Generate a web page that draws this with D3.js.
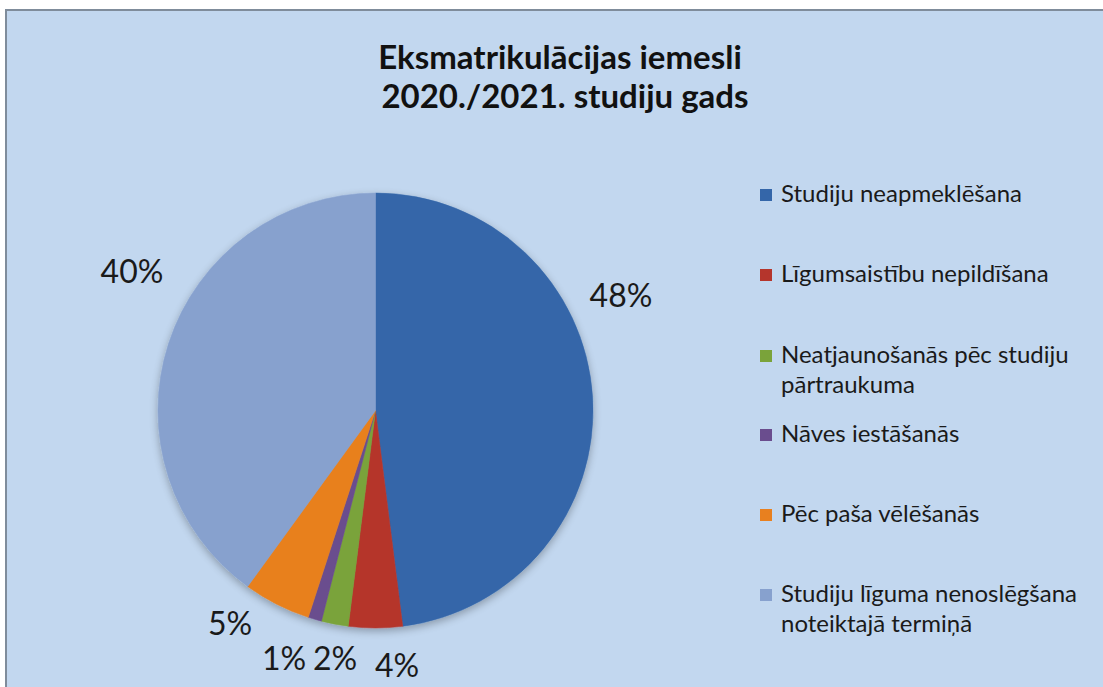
<!DOCTYPE html>
<html><head><meta charset="utf-8">
<script src="https://cdn.jsdelivr.net/npm/d3@7/dist/d3.min.js"></script>
<style>body{margin:0;background:#fff;}svg{display:block;}</style>
</head><body>
<script>
const categories = ["Studiju neapmeklēšana","Līgumsaistību nepildīšana","Neatjaunošanās pēc studiju pārtraukuma","Nāves iestāšanās","Pēc paša vēlēšanās","Studiju līguma nenoslēgšana noteiktajā termiņā"];
const legendLines = [["Studiju neapmeklēšana"],["Līgumsaistību nepildīšana"],["Neatjaunošanās pēc studiju","pārtraukuma"],["Nāves iestāšanās"],["Pēc paša vēlēšanās"],["Studiju līguma nenoslēgšana","noteiktajā termiņā"]];
const values = [48,4,2,1,5,40];
const labels = ["48%","4%","2%","1%","5%","40%"];
const colors = ["#3466a9","#b5352c","#7aa33a","#6a4d8e","#e8801f","#87a1ce"];
const titleLines = ["Eksmatrikulācijas iemesli","2020./2021. studiju gads"];

const W=1103,H=687;
const svg=d3.select("body").append("svg").attr("width",W).attr("height",H);
const defs=svg.append("defs");
const f=defs.append("filter").attr("id","sh").attr("x","-20%").attr("y","-20%").attr("width","140%").attr("height","140%");
f.append("feGaussianBlur").attr("in","SourceAlpha").attr("stdDeviation",4).attr("result","b");
f.append("feOffset").attr("in","b").attr("dx",0).attr("dy",3).attr("result","o");
f.append("feComponentTransfer").attr("in","o").attr("result","o2").append("feFuncA").attr("type","linear").attr("slope",0.3);
const m=f.append("feMerge");m.append("feMergeNode").attr("in","o2");m.append("feMergeNode").attr("in","SourceGraphic");

svg.append("rect").attr("x",6).attr("y",10).attr("width",W).attr("height",H).attr("fill","#c2d7ef").attr("stroke","#7f8c9b").attr("stroke-width",2);

const font="Lato, 'Open Sans', sans-serif";
svg.append("g").selectAll("text").data(titleLines).join("text")
  .attr("x",(d,i)=>i?565:560).attr("y",(d,i)=>69+i*39).attr("text-anchor","middle")
  .attr("font-family",font).attr("font-weight","bold").attr("font-size",33).attr("fill","#111").text(d=>d);

const cx=375.5,cy=410.5,r=217.5;
const pie=d3.pie().sort(null).value(d=>d);
const arcs=pie(values);
const arc=d3.arc().innerRadius(0).outerRadius(r);
const g=svg.append("g").attr("transform",`translate(${cx},${cy})`);
g.append("g").attr("filter","url(#sh)").selectAll("path").data(arcs).join("path")
  .attr("d",arc).attr("fill",(d,i)=>colors[i]).attr("stroke",(d,i)=>colors[i]).attr("stroke-width",0.5);

const labelPos=[[621,307],[397,677],[335,670],[284,670],[230,635],[132,283]];
svg.append("g").selectAll("text").data(arcs).join("text")
  .attr("x",(d,i)=>labelPos[i][0]).attr("y",(d,i)=>labelPos[i][1]).attr("text-anchor","middle")
  .attr("font-family",font).attr("font-size",32).attr("fill","#1a1a1a").text((d,i)=>labels[i]);

const legY=[202,282,363,442,522,602];
const lg=svg.append("g");
categories.forEach((c,i)=>{
  lg.append("rect").attr("x",760).attr("y",legY[i]-13).attr("width",12).attr("height",12).attr("fill",colors[i]);
  legendLines[i].forEach((t,j)=>{
    lg.append("text").attr("x",781).attr("y",legY[i]+j*30).attr("font-family",font).attr("font-size",24).attr("fill","#1a1a1a").text(t);
  });
});
</script>
</body></html>
